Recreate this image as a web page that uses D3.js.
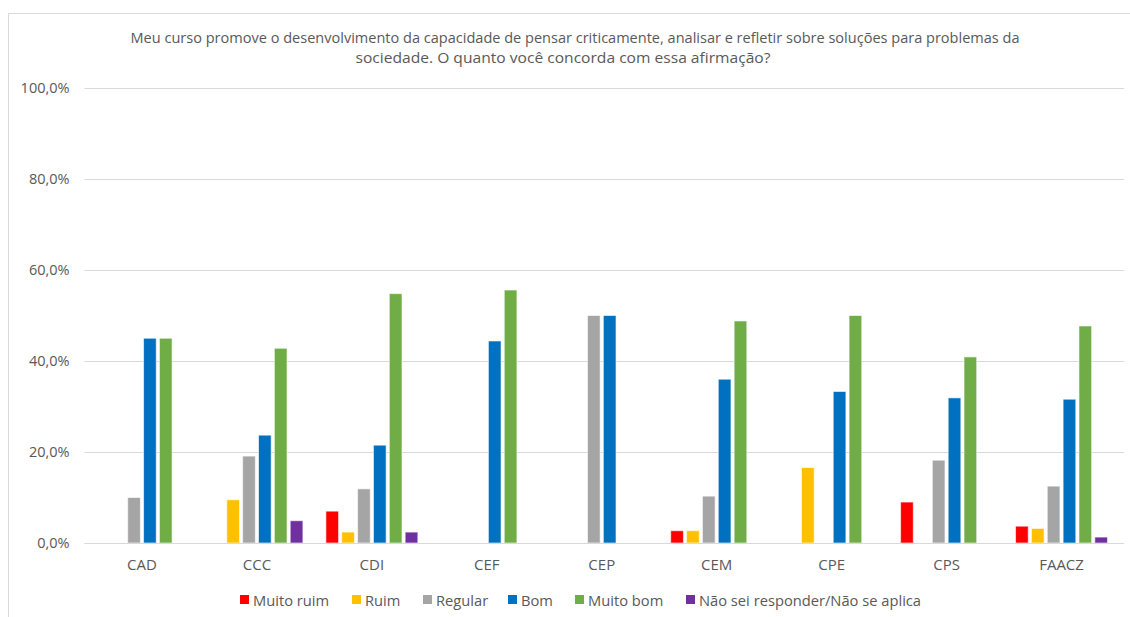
<!DOCTYPE html>
<html>
<head>
<meta charset="utf-8">
<script src="https://cdn.jsdelivr.net/npm/d3@7"></script>
<style>
  html, body { margin: 0; padding: 0; background: #fff; }
  svg { display: block; font-family: "Open Sans", sans-serif; }
</style>
</head>
<body>
<svg id="chart" width="1130" height="617"></svg>
<script>
const titleLines = [
  "Meu curso promove o desenvolvimento da capacidade de pensar criticamente, analisar e refletir sobre soluções para problemas da",
  "sociedade. O quanto você concorda com essa afirmação?"
];
const categories = ["CAD", "CCC", "CDI", "CEF", "CEP", "CEM", "CPE", "CPS", "FAACZ"];
const seriesNames = ["Muito ruim", "Ruim", "Regular", "Bom", "Muito bom", "Não sei responder/Não se aplica"];
const seriesColors = ["#FF0000", "#FFC000", "#A5A5A5", "#0070C0", "#70AD47", "#7030A0"];
// values in %, one array per series, ordered as categories
const muitoRuim = [0, 0, 7.0, 0, 0, 2.7, 0, 9.0, 3.7];
const ruim      = [0, 9.5, 2.4, 0, 0, 2.7, 16.6, 0, 3.2];
const regular   = [10.0, 19.1, 11.9, 0, 50.0, 10.3, 0, 18.2, 12.5];
const bom       = [45.0, 23.7, 21.5, 44.4, 50.0, 36.0, 33.3, 31.9, 31.6];
const muitoBom  = [45.0, 42.8, 54.8, 55.6, 0, 48.8, 50.0, 40.9, 47.7];
const naoSei    = [0, 4.9, 2.4, 0, 0, 0, 0, 0, 1.3];
const yTicks = [0, 20, 40, 60, 80, 100];

const seriesValues = [muitoRuim, ruim, regular, bom, muitoBom, naoSei];

const svg = d3.select("#chart");
const textColor = "#595959";

// chart area border (cropped)
svg.append("path")
  .attr("d", "M8.5,617 L8.5,13.5 L1130,13.5")
  .attr("fill", "none")
  .attr("stroke", "#d9d9d9")
  .attr("stroke-width", 1);

// title
const title = svg.append("g").attr("fill", textColor).attr("font-size", 14).attr("text-anchor", "middle");
title.append("text").attr("x", 575).attr("y", 43).text(titleLines[0])
  .attr("textLength", 889).attr("lengthAdjust", "spacingAndGlyphs");
title.append("text").attr("x", 563).attr("y", 63).text(titleLines[1])
  .attr("textLength", 415).attr("lengthAdjust", "spacingAndGlyphs");

const plot = { left: 84.5, right: 1119, top: 88, bottom: 543 };

const y = d3.scaleLinear().domain([0, 100]).range([plot.bottom, plot.top]);
const x0 = d3.scaleBand().domain(categories).range([plot.left, plot.right]).paddingInner(0.2).paddingOuter(0.1);
const x1 = d3.scaleBand().domain(d3.range(seriesNames.length)).range([0, x0.bandwidth()]).paddingInner(0.2);

// gridlines + y labels
const fmt = v => d3.format(".1f")(v).replace(".", ",") + "%";
svg.append("g")
  .attr("transform", `translate(${plot.left},0)`)
  .call(d3.axisLeft(y).tickValues(yTicks).tickSize(-(plot.right + 5 - plot.left)).tickFormat(fmt).tickPadding(15))
  .call(g => g.select(".domain").remove())
  .call(g => g.selectAll(".tick line").attr("stroke", "#d9d9d9").attr("stroke-width", 1))
  .call(g => g.selectAll(".tick text").attr("fill", textColor).attr("font-size", 14.5).attr("font-family", "Open Sans, sans-serif"));

// bars
const groups = svg.append("g").selectAll("g")
  .data(categories)
  .join("g")
  .attr("transform", d => `translate(${x0(d)},0)`);

groups.selectAll("rect")
  .data((c, ci) => seriesValues.map((vals, si) => ({ si, v: vals[ci] })).filter(d => d.v > 0))
  .join("rect")
  .attr("x", d => x1(d.si))
  .attr("width", x1.bandwidth())
  .attr("y", d => y(d.v))
  .attr("height", d => y(0) - y(d.v))
  .attr("fill", d => seriesColors[d.si])
  .attr("stroke", "#ffffff")
  .attr("stroke-opacity", 0.6)
  .attr("stroke-width", 1);

// x axis labels
svg.append("g")
  .attr("transform", `translate(0,${plot.bottom})`)
  .call(d3.axisBottom(x0).tickSize(0).tickPadding(16))
  .call(g => g.select(".domain").remove())
  .call(g => g.selectAll(".tick text").attr("fill", textColor).attr("font-size", 15).attr("font-family", "Open Sans, sans-serif"));

// baseline
svg.append("line")
  .attr("x1", plot.left).attr("x2", plot.right + 5)
  .attr("y1", plot.bottom + 0.5).attr("y2", plot.bottom + 0.5)
  .attr("stroke", "#d9d9d9");

// legend
const legendX = [240, 352, 423, 508, 575, 686];
const legend = svg.append("g").selectAll("g")
  .data(seriesNames)
  .join("g")
  .attr("transform", (d, i) => `translate(${legendX[i]},595)`);
legend.append("rect").attr("width", 9).attr("height", 9).attr("fill", (d, i) => seriesColors[i]);
legend.append("text").attr("x", 13).attr("y", 11).attr("fill", textColor).attr("font-size", 14.7).text(d => d);
</script>
</body>
</html>
